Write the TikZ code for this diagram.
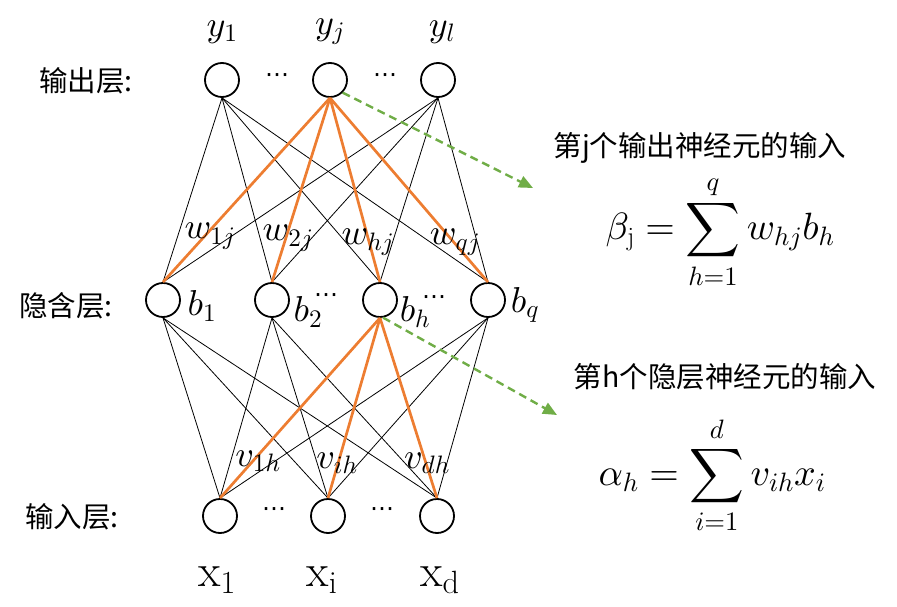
\documentclass[tikz,border=0pt]{standalone}
\usepackage{fontspec}
\DeclareFontShape{OML}{cmm}{m}{it}{<->cmmi10}{}
\DeclareFontShape{OML}{cmm}{b}{it}{<->cmmib10}{}
\DeclareFontShape{OMS}{cmsy}{m}{n}{<->cmsy10}{}
\DeclareFontShape{OMX}{cmex}{m}{n}{<->cmex10}{}
\DeclareFontShape{OT1}{cmr}{m}{n}{<->cmr10}{}
\newfontfamily\cjk{Noto Sans CJK SC}
\newfontfamily\dejavu{DejaVu Sans}
\usetikzlibrary{arrows.meta}
\definecolor{orangeA}{HTML}{ED7D31}
\definecolor{greenA}{HTML}{70AD47}
\begin{document}
\begin{tikzpicture}[x=1pt,y=-1pt,
  neuron/.style={circle, draw, line width=1.8pt, minimum size=34pt, inner sep=0pt},
  conn/.style={line width=0.8pt},
  hl/.style={line width=2.7pt, draw=orangeA},
  lab/.style={font=\fontsize{36}{40}\selectfont, inner sep=0pt},
  xlab/.style={font=\fontsize{46}{50}\selectfont, inner sep=0pt},
  dotsty/.style={font=\dejavu\fontsize{24}{26}\selectfont, inner sep=0pt},
  cn/.style={font=\cjk\fontsize{28.5}{30}\selectfont, inner sep=0pt},
  frm/.style={font=\fontsize{38}{42}\selectfont, inner sep=0pt},
  arr/.style={draw=greenA, line width=2.4pt, dash pattern=on 8pt off 5pt, -{Triangle[length=14pt,width=12pt]}}
]
\useasboundingbox (0,0) rectangle (897,607);

% output layer
\node[neuron] (y1) at (222,80) {};
\node[neuron] (yj) at (330,80) {};
\node[neuron] (yl) at (438,80) {};
% hidden layer
\node[neuron] (b1) at (163,300) {};
\node[neuron] (b2) at (272,300) {};
\node[neuron] (bh) at (380,300) {};
\node[neuron] (bq) at (488,300) {};
% input layer
\node[neuron] (x1) at (220,516) {};
\node[neuron] (xi) at (328,516) {};
\node[neuron] (xd) at (437,516) {};

% connections
\foreach \h in {b1,b2,bh,bq} {
  \draw[conn] (y1.south) -- (\h.north);
  \draw[conn] (yl.south) -- (\h.north);
}
\foreach \h in {b1,b2,bq} \foreach \i in {x1,xi,xd} \draw[conn] (\h.south) -- (\i.north);
\foreach \h in {b1,b2,bh,bq} \draw[hl] (yj.south) -- (\h.north);
\foreach \i in {x1,xi,xd} \draw[hl] (bh.south) -- (\i.north);

% layer labels
\node[cn] (lo) at (86,81) {输出层:};
\node[cn] (lh) at (66,306) {隐含层:};
\node[cn] (li) at (72,517) {输入层:};

% output labels
\node[lab] (ly1) at (222,32) {$y_1$};
\node[lab] (lyj) at (330,32) {$y_j$};
\node[lab] (lyl) at (442,32) {$y_l$};
% dots
\node[dotsty] (d1) at (277,78) {⋯};
\node[dotsty] (d2) at (385,78) {⋯};
\node[dotsty] (d3) at (326,298) {⋯};
\node[dotsty] (d4) at (434,300) {⋯};
\node[dotsty] (d5) at (274,512) {⋯};
\node[dotsty] (d6) at (382,512) {⋯};

% hidden labels
\node[lab] (lb1) at (202,306) {$b_1$};
\node[lab] (lb2) at (308,312) {$b_2$};
\node[lab] (lbh) at (415,312) {$b_h$};
\node[lab] (lbq) at (525,305) {$b_q$};

% input labels
\node[xlab] (lx1) at (217,580) {$\mathrm{x}_{\mathrm{1}}$};
\node[xlab] (lxi) at (322,580) {$\mathrm{x}_{\mathrm{i}}$};
\node[xlab] (lxd) at (440,580) {$\mathrm{x}_{\mathrm{d}}$};

% weights
\node[lab] (w1) at (210,236) {$w_{1j}$};
\node[lab] (w2) at (288,238) {$w_{2j}$};
\node[lab] (wh) at (368,242) {$w_{hj}$};
\node[lab] (wq) at (455,242) {$w_{qj}$};
\node[lab] (v1) at (258,461) {$v_{1h}$};
\node[lab] (vi) at (337,463) {$v_{ih}$};
\node[lab] (vd) at (427,463) {$v_{dh}$};

% formulas
\node[cn] (t1) at (700,148) {第j个输出神经元的输入};
\node[frm] (f1) at (720,232) {$\displaystyle \beta_{\mathrm{j}}=\sum_{h=1}^{q} w_{hj}b_h$};
\node[cn] (t2) at (725,377) {第h个隐层神经元的输入};
\node[frm] (f2) at (712,475) {$\displaystyle \alpha_h=\sum_{i=1}^{d} v_{ih}x_i$};

% arrows
\coordinate (a1) at (533,188);
\coordinate (a2) at (557,415);
\draw[arr] (yj.-45) -- (a1);
\draw[arr] (bh.-80) -- (a2);
\end{tikzpicture}
\end{document}
